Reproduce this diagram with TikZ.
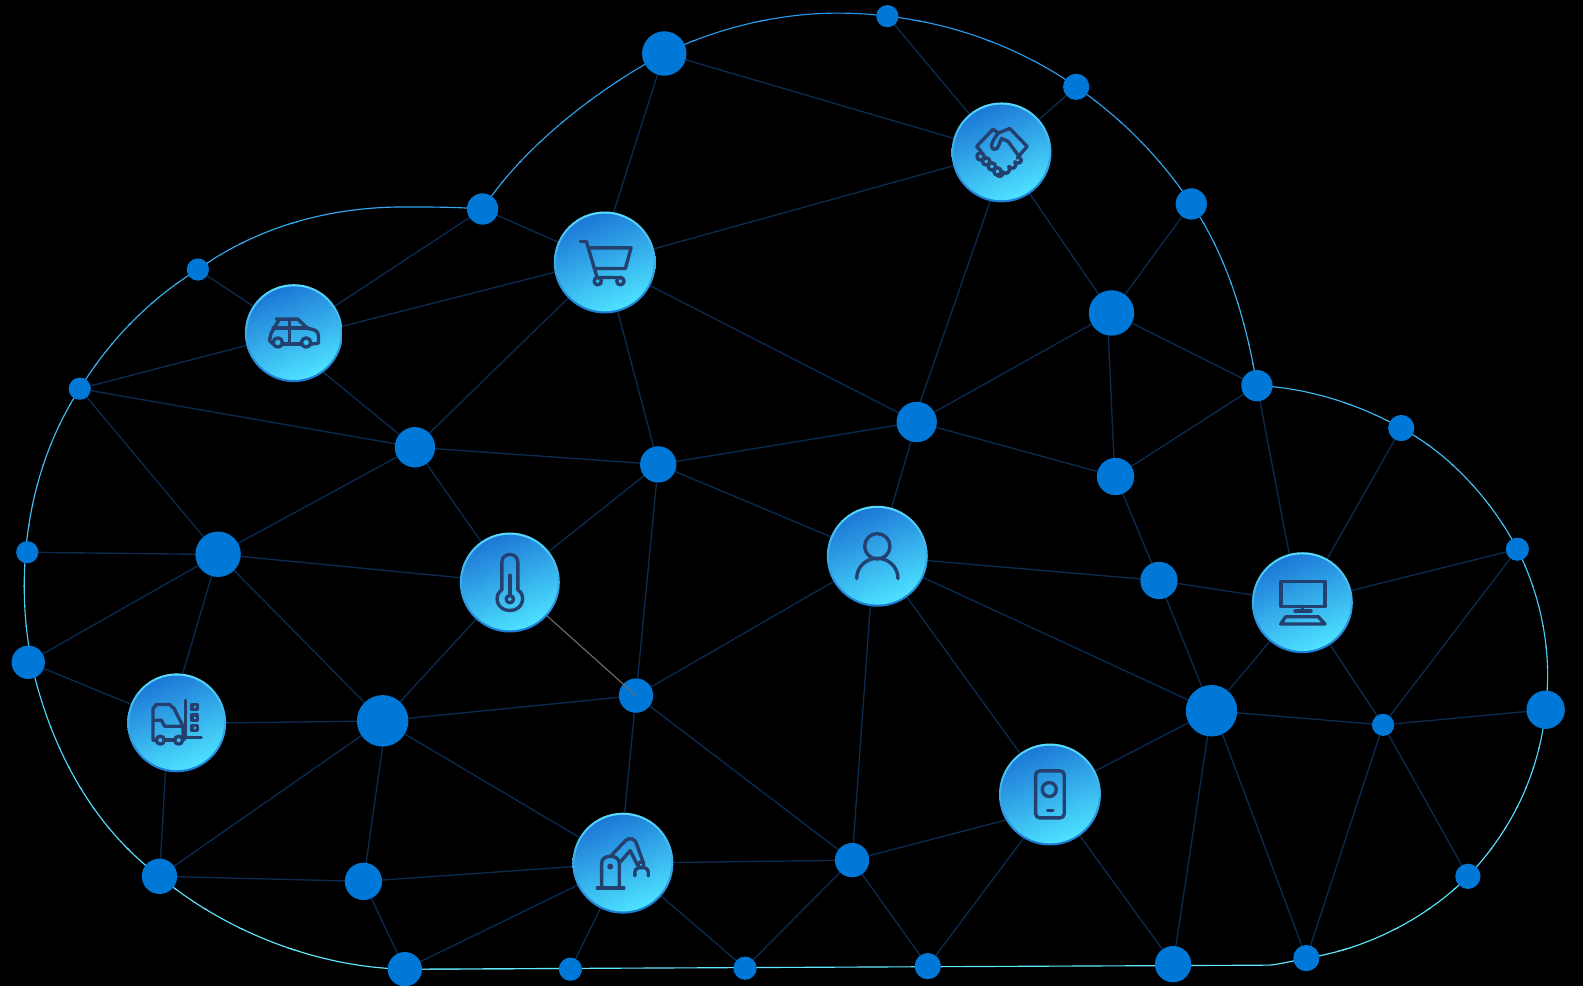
\documentclass[tikz,border=0pt]{standalone}
\usetikzlibrary{backgrounds}
\pgfdeclarelayer{top}
\pgfsetlayers{background,main,top}
\definecolor{hubblue}{HTML}{0078D7}
\definecolor{edgenavy}{HTML}{0A2B4E}
\definecolor{outtop}{HTML}{2796E8}
\definecolor{outbot}{HTML}{5FEBFF}
\definecolor{facetop}{HTML}{1C78D6}
\definecolor{facebot}{HTML}{4DE2FF}
\definecolor{ringtop}{HTML}{58DCFF}
\definecolor{ringbot}{HTML}{1A7AD4}
\definecolor{iconink}{HTML}{24406F}
\tikzset{
  hub/.style={circle,fill=hubblue,inner sep=0pt,outer sep=0pt,minimum size=#1*1.5pt},
  iconring/.style={circle,inner sep=0pt,outer sep=0pt,minimum size=#1*1.5pt,top color=ringtop,bottom color=ringbot},
  iconface/.style={circle,inner sep=0pt,outer sep=0pt,minimum size=#1*1.5pt-3.2pt,top color=facetop,bottom color=facebot,shading angle=22},
  link/.style={draw=edgenavy,line width=1pt},
  greylink/.style={draw=black!58,line width=0.85pt},
  cloudline/.style={line width=0.85pt},
  ink/.style={shift={(#1.center)},x=.2475pt,y=-.2475pt,draw=iconink,line width=2.5pt,line join=round,line cap=round}
}
\newcommand{\iconhub}[4]{%
  \node[iconring=#4] (#1) at (#2,#3) {};
  \node[iconface=#4] (#1-face) at (#1.center) {};
}
\newcommand{\links}[2]{\foreach \t in {#2}{\draw[link] (#1) -- (\t);}}
\begin{document}
\begin{tikzpicture}[x=0.75pt,y=-0.75pt]
\useasboundingbox (0,0) rectangle (1568,976.6);
% plain hubs
\foreach \n/\x/\y/\r in {a1/658/53/22,a2/879/16/11,a3/1066/86/13,a4/1180/202/15.5,a5/1101/310/22.5,a6/1245/382/15.5,
 a7/1388/424/13,a8/1503/544/11.5,a9/1531/703/19,a10/1370/718/11,a11/1454/868/12.5,a12/1294/949/13,a13/1162/955/18,
 a14/1200/704/25.5,a15/1148/575/18.5,a16/1105/472/18.5,a17/908/418/20,a18/652/460/18,a19/411/443/20,a20/478/207/15.5,
 a21/196/267/11,a22/79/385/11,a23/216/549/22.5,a24/27/547/11,a25/28/656/16.5,a26/379/714/25.5,a27/630/689/17,a28/158/868/17.5,
 a29/360/873/18.5,a30/401/960/17,a31/565/960/11.5,a32/738/959/11.5,a33/919/957/13,a34/844/852/17}
 {\node[hub=\r] (\n) at (\x,\y) {};}
% icon hubs
\iconhub{car}{291}{330}{48.5}
\iconhub{cart}{599}{260}{50.5}
\iconhub{hand}{992}{151}{49.5}
\iconhub{temp}{505}{577}{49.5}
\iconhub{person}{869}{551}{50}
\iconhub{monitor}{1290}{597}{50}
\iconhub{phone}{1040}{787}{50.5}
\iconhub{forklift}{175}{716}{49}
\iconhub{robot}{617}{855}{50}
\newcommand{\cloudpath}{(a20.center) .. controls (515,150) and (585,92) .. (a1.center)
 .. controls (710,28) and (770,13) .. (830,13) .. controls (847,13) and (863,14) .. (a2.center)
 .. controls (950,24) and (1015,50) .. (a3.center) .. controls (1115,120) and (1152,160) .. (a4.center)
 .. controls (1215,252) and (1235,320) .. (a6.center) .. controls (1295,384) and (1345,400) .. (a7.center)
 .. controls (1440,452) and (1480,500) .. (a8.center) .. controls (1522,582) and (1533,625) .. (1533,670)
 .. controls (1533,680) and (1532,692) .. (a9.center) .. controls (1524,770) and (1495,825) .. (a11.center)
 .. controls (1415,908) and (1355,940) .. (a12.center) .. controls (1280,952) and (1268,955) .. (1257,956)
 -- (a30.center) .. controls (310,958) and (220,920) .. (a28.center) .. controls (100,825) and (55,755) .. (33,665)
 .. controls (27,635) and (24,610) .. (24,580) .. controls (24,515) and (40,445) .. (a22.center)
 .. controls (110,335) and (150,295) .. (a21.center) .. controls (250,228) and (320,205) .. (400,205)
 .. controls (425,205) and (450,205) .. (a20.center)}
\begin{pgfonlayer}{background}
  \fill[black] (0,0) rectangle (1568,976.6);
  \draw[link] (a1) -- (cart.80);
  \links{a1}{hand}
  \links{hand}{a2,a3,cart,a5}
  \draw[link] (hand.257) -- (a17.80);
  \draw[link] (a5.262) -- (a16.95);
  \links{a5}{a4,a6,a17}
  \links{a6}{a16}
  \draw[link] (a6) -- (monitor.105);
  \links{monitor}{a7,a8,a10,a14,a15}
  \links{a10}{a8,a9,a14,a11,a12}
  \links{a14}{a15,person,phone,a13}
  \draw[link] (a14.295) -- (a12.110);
  \links{a15}{a16,person}
  \links{a17}{a16,person,a18,cart}
  \links{a18}{cart,a19,person,temp,a27}
  \links{a19}{cart,a22,a23,temp}
  \draw[link] (car.307) -- (a19);
  \links{a20}{car,cart}
  \draw[link] (car.8) -- (cart.191);
  \links{car}{a21,a22}
  \links{a23}{a22,a25,temp,a26}
  \draw[link] (a23.180) -- (a24);
  \draw[link] (a23) -- (forklift.83);
  \links{forklift}{a25}
  \draw[link] (forklift.0) -- (a26.181);
  \draw[link] (forklift.257) -- (a28);
  \links{a26}{temp,a27,a28,robot}
  \draw[link] (a26.270) -- (a29);
  \links{a27}{person,a34}
  \draw[link] (a27) -- (robot.88);
  \links{a29}{a28,robot,a30}
  \links{robot}{a30,a31,a32,a34}
  \links{a34}{a32,a33}
  \draw[link] (a34) -- (phone.210);
  \draw[link] (a34) -- (person.262);
  \links{phone}{person,a13}
  \draw[link] (phone.239) -- (a33);
  \foreach \i in {0,...,48}{
    \pgfmathsetmacro\m{\i*100/48}
    \colorlet{slicecol}{outbot!\m!outtop}
    \begin{scope}
      \clip (0,{\i*20}) rectangle (1568,{\i*20+21});
      \draw[cloudline,slicecol] \cloudpath;
    \end{scope}
  }
\end{pgfonlayer}
\begin{pgfonlayer}{top}
  \draw[greylink] (temp) -- (a27.center);
\end{pgfonlayer}
% handshake
\begin{scope}[ink=hand]
  \draw (-10,-58) -- (-25,-70) -- (-75,-18) -- (-60,-2);
  \draw (-10,-58) -- (25,-72) -- (77,-18) -- (47,17);
  \draw (-10,-58) .. controls (-20,-45) and (-30,-30) .. (-30,-18) .. controls (-28,-6) and (-12,-6) .. (-8,-22) -- (0,-42) -- (20,-33) -- (55,15);
  \draw (55,15) .. controls (68,28) and (50,38) .. (40,28) .. controls (50,42) and (34,56) .. (22,42) .. controls (30,58) and (14,70) .. (4,58) .. controls (8,72) and (-8,76) .. (-16,66);
  \foreach \p in {(-63,12),(-46,27),(-29,42),(-12,57)}{\draw \p circle[radius=11];}
\end{scope}
% cart
\begin{scope}[ink=cart]
  \draw (-73,-63) -- (-55,-63) -- (-23,45) -- (50,45);
  \draw (-45,-44) -- (79,-44) -- (62,18) -- (-28,18);
  \draw (-21,56) circle[radius=11];
  \draw (47,56) circle[radius=11];
\end{scope}
% car
\begin{scope}[ink=car]
  \draw (-53,-42) -- (12,-42) -- (42,-14) .. controls (62,-12) and (74,-6) .. (74,8) -- (74,30) -- (52,33);
  \draw (-43,-42) -- (-68,0) -- (-73,22) -- (-62,33);
  \draw (-33,33) -- (22,33);
  \draw (-62,-15) -- (42,-15);
  \draw (-13,-42) -- (-13,33);
  \draw (-48,28) circle[radius=14];
  \draw (37,28) circle[radius=14];
\end{scope}
% forklift
\begin{scope}[ink=forklift]
  \draw (-60,52) -- (-71,52) -- (-71,-43) -- (-61,-55) -- (-21,-55) -- (-8,-43) -- (19,10) -- (19,52);
  \draw (-71,-8) -- (-46,-8) -- (-36,10) -- (19,10);
  \draw (-37,52) -- (-6,52);
  \draw (18,52) -- (27,44);
  \draw (27,-68) -- (27,44) -- (74,44);
  \draw (-49,52) circle[radius=12];
  \draw (6,52) circle[radius=12];
  \foreach \yy in {-48,-16,15}{\draw (46,\yy-8) rectangle (62,\yy+8);}
\end{scope}
% robot
\begin{scope}[ink=robot]
  \draw (-77,75) -- (3,75);
  \draw (-64,75) -- (-64,0) .. controls (-64,-28) and (-11,-28) .. (-11,0) -- (-11,75);
  \fill[iconink] (-38,10) circle[radius=9];
  \draw (-38,-20) -- (8,-68) .. controls (20,-80) and (40,-72) .. (42,-55) -- (62,0);
  \draw (-11,0) -- (22,-38) -- (44,6);
  \draw (54,5) circle[radius=9];
  \draw (36,38) -- (36,26) .. controls (36,8) and (76,8) .. (76,26) -- (76,38);
\end{scope}
% monitor
\begin{scope}[ink=monitor]
  \draw (-64,-64) rectangle (68,12);
  \draw (1,12) -- (1,25);
  \draw (-22,25) -- (26,25);
  \draw (-50,42) -- (48,42) -- (68,64) -- (-65,64) -- cycle;
\end{scope}
% thermometer
\begin{scope}[ink=temp]
  \draw (24,22) -- (24,-61) .. controls (24,-92) and (-24,-92) .. (-24,-61) -- (-24,22)
        .. controls (-50,38) and (-40,84) .. (0,84) .. controls (40,84) and (50,38) .. (24,22);
  \draw (0,50) circle[radius=11];
  \draw (0,-22) -- (0,38);
\end{scope}
% person
\begin{scope}[ink=person]
  \draw (0,-30) circle[radius=38];
  \draw (-62,67) .. controls (-62,30) and (-32,6) .. (0,6) .. controls (32,6) and (62,30) .. (62,67);
\end{scope}
% phone
\begin{scope}[ink=phone]
  \draw[rounded corners=3pt] (-43,-71) rectangle (43,70);
  \draw (-2,-15) circle[radius=21];
  \draw (-7,48) -- (9,48);
\end{scope}
\end{tikzpicture}
\end{document}
